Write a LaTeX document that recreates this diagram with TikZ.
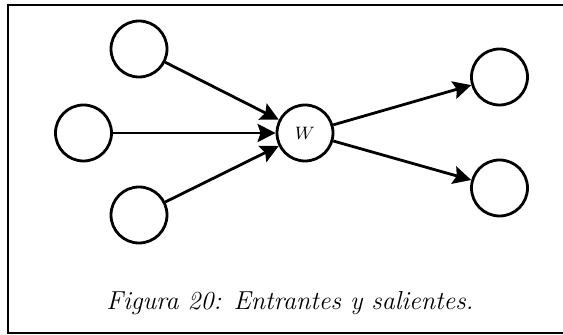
\documentclass[tikz,border=0pt]{standalone}
\usetikzlibrary{arrows.meta}
\tikzset{
  sommet/.style={draw,circle,line width=1.4pt,minimum size=28pt,inner sep=0pt},
  fleche/.style={line width=1.4pt,-{Stealth[length=9pt,width=9pt,inset=1.5pt]}}
}
\begin{document}
\begin{tikzpicture}[x=0.5pt,y=-0.5pt]
    \useasboundingbox (0,0) rectangle (563,335);
    \draw[line width=1pt] (8,5) rectangle (580,333); %Cadre
    \node[sommet] (e1) at (139,49) {}; %Entrant haut
    \node[sommet] (e2) at (83.5,133) {}; %Entrant milieu
    \node[sommet] (e3) at (139,215) {}; %Entrant bas
    \node[sommet] (w) at (305,133) {\small $W$}; %Sommet central
    \node[sommet] (s1) at (499.5,77) {}; %Sortant haut
    \node[sommet] (s2) at (499.5,188) {}; %Sortant bas
    \draw[fleche] (e1) -- (w);
    \draw[fleche] (e2) -- (w);
    \draw[fleche] (e3) -- (w);
    \draw[fleche] (w) -- (s1);
    \draw[fleche] (w) -- (s2);
    \node[anchor=base] (legende) at (290,310) {\fontsize{13}{15}\selectfont\itshape Figura 20: Entrantes y salientes.}; %Legende
\end{tikzpicture}
\end{document}
